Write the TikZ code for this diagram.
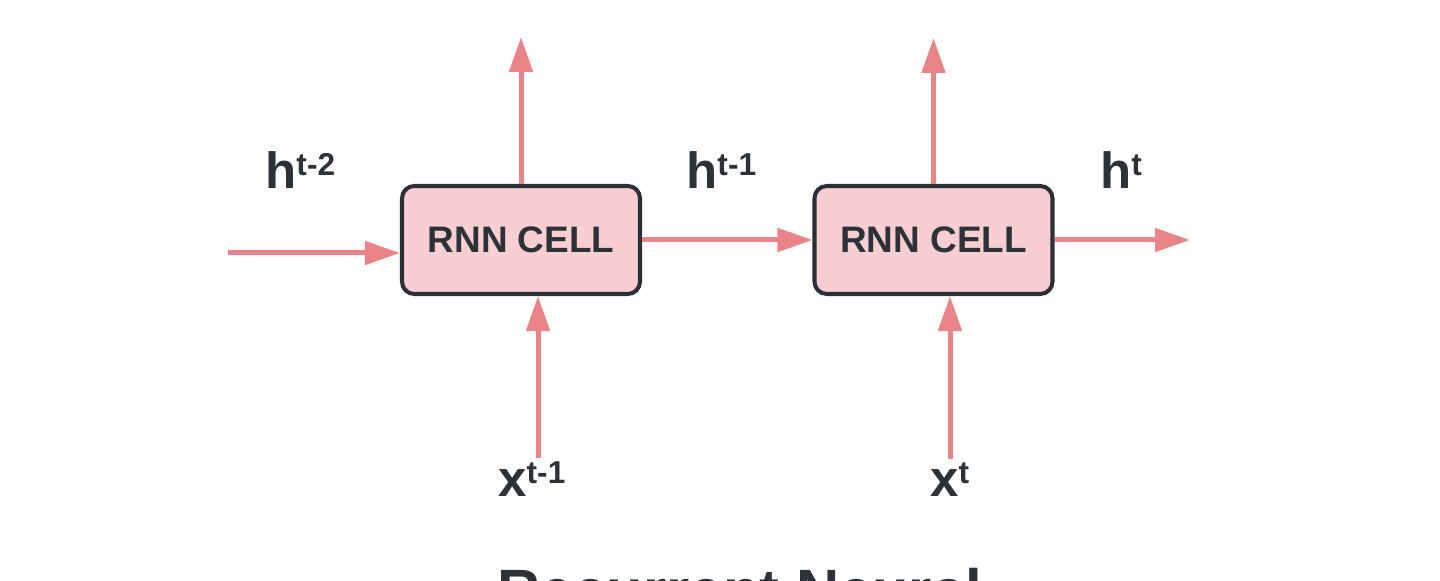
\documentclass[tikz,border=0pt]{standalone}
\usepackage{fontspec}
\setmainfont{Liberation Sans}
\usepackage{tikz}
\usetikzlibrary{positioning, arrows.meta, calc}
\definecolor{CellFill}{RGB}{247,207,210}
\definecolor{CellLine}{RGB}{44,48,54}
\definecolor{LinkRed}{RGB}{233,133,137}
\definecolor{InkGrey}{RGB}{45,50,56}
\newcommand{\statelbl}[2]{{\fontsize{29}{30}\selectfont #1}{\fontsize{18}{19}\selectfont\raisebox{0.26cm}{#2}}}

\begin{document}
\begin{tikzpicture}[
          cell/.style={rectangle, rounded corners=7pt, draw=CellLine, line width=2.3pt,
                       fill=CellFill, minimum width=4.76cm, minimum height=2.16cm,
                       text=InkGrey, font=\fontsize{21}{22}\selectfont\bfseries},
          lbl/.style={anchor=base west, inner sep=0pt, text=InkGrey, font=\bfseries},
          arr/.style={-{Triangle[length=0.7cm, width=0.46cm]}, line width=0.1cm, LinkRed}
        ]
        \clip (0,0) rectangle (28.8,11.6);
        \fill[white] (0,0) rectangle (28.8,11.6);

        % Cells
        \node[cell] (c1) at (10.42, 6.8) {RNN CELL};
        \node[cell] (c2) at (18.67, 6.8) {RNN CELL};

        % Free ends
        \coordinate (hin)  at (4.56, 6.54);
        \coordinate (hout) at (23.8, 6.8);
        \coordinate (y1)   at (10.42, 10.86);
        \coordinate (y2)   at (18.67, 10.84);
        \coordinate (x1)   at (10.76, 2.44);
        \coordinate (x2)   at (19.0, 2.42);

        % Hidden state
        \draw[arr] (hin) -- (hin -| c1.west);
        \draw[arr] (c1) -- (c2);
        \draw[arr] (c2) -- (hout);

        % Outputs
        \draw[arr] (c1) -- (y1);
        \draw[arr] (c2) -- (y2);

        % Inputs
        \draw[arr] (x1) -- (x1 |- c1.south);
        \draw[arr] (x2) -- (x2 |- c2.south);

        % Labels
        \node[lbl] (lh2) at (5.30, 7.82)  {\statelbl{h}{t-2}};
        \node[lbl] (lh1) at (13.72, 7.82) {\statelbl{h}{t-1}};
        \node[lbl] (lh0) at (22.0, 7.82)  {\statelbl{h}{t}};
        \node[lbl] (lx1) at (9.96, 1.66)  {\statelbl{x}{t-1}};
        \node[lbl] (lx0) at (18.6, 1.66)  {\statelbl{x}{t}};

        % Title (cut by the frame)
        \node[lbl, font=\fontsize{34}{36}\selectfont\bfseries] (title)
              at (9.94, -0.62) {Recurrent Neural};
      \end{tikzpicture}
\end{document}
